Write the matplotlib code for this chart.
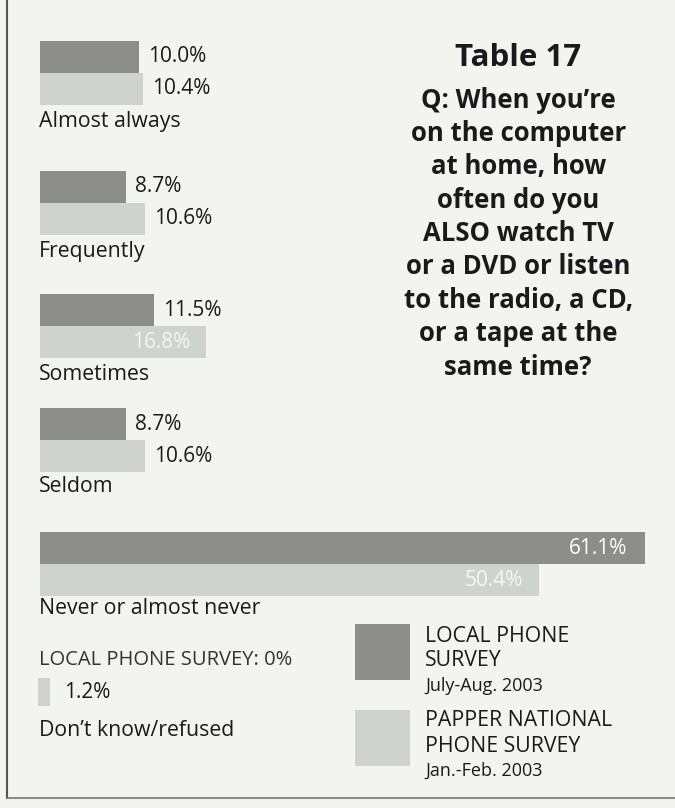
import matplotlib.pyplot as plt

# survey answers, percent
categories = ['Almost always', 'Frequently', 'Sometimes', 'Seldom', 'Never or almost never']
local = [10.0, 8.7, 11.5, 8.7, 61.1]
national = [10.4, 10.6, 16.8, 10.6, 50.4]
dk_label = "Don\u2019t know/refused"
dk_local = 0.0
dk_national = 1.2

dark = '#8d8e8c'
light = '#cfd3d0'
bg = '#f3f3ef'
ink = '#1a1a1a'
plt.rcParams['font.family'] = ['Open Sans', 'DejaVu Sans']

fig = plt.figure(figsize=(6.75, 8.08), dpi=100, facecolor=bg)
ax = fig.add_axes([0, 0, 1, 1])
ax.set_facecolor(bg)
# x in percent (0% at the bars' left edge), y in rows measured from the top
ax.set_xlim(-4.04, 64.14)
ax.set_ylim(808, 0)
ax.axis('off')

tops = [41, 171, 294, 408, 532]   # top of each dark bar
label_gap = [81, 80, 80, 79, 76]  # bar top to category label
h = 32
inside = {2: (False, True), 4: (True, True)}   # which labels sit inside the bar

for i, cat in enumerate(categories):
    y0 = tops[i]
    ax.barh(y0 + h / 2, local[i], height=h, left=0, color=dark, align='center')
    ax.barh(y0 + h * 1.5, national[i], height=h, left=0, color=light, align='center')
    in_dark, in_light = inside.get(i, (False, False))
    if in_dark:
        ax.text(local[i] - 1.8, y0 + h / 2, f'{local[i]:.1f}%', color='white',
                fontsize=15, ha='right', va='center')
    else:
        ax.text(local[i] + 0.9, y0 + h / 2, f'{local[i]:.1f}%', color=ink,
                fontsize=15, ha='left', va='center')
    if in_light:
        ax.text(national[i] - 1.6, y0 + h * 1.5, f'{national[i]:.1f}%', color='#f6f6f2',
                fontsize=15, ha='right', va='center')
    else:
        ax.text(national[i] + 0.9, y0 + h * 1.5, f'{national[i]:.1f}%', color=ink,
                fontsize=15, ha='left', va='center')
    ax.text(-0.1, y0 + label_gap[i], cat, color=ink, fontsize=15.3, ha='left', va='center')

# don't know / refused
ax.text(-0.1, 660, f'LOCAL PHONE SURVEY: {dk_local:.0f}%', color='#333333',
        fontsize=14.5, ha='left', va='center')
ax.barh(692, dk_national, height=28, left=-0.2, color=light)
ax.text(dk_national + 1.2, 692, f'{dk_national:.1f}%', color=ink, fontsize=15,
        ha='left', va='center')
ax.text(-0.1, 731, dk_label, color=ink, fontsize=15.3, ha='left', va='center')

# legend
ax.barh(652, 5.6, height=56, left=31.8, color=dark)
ax.barh(738, 5.6, height=56, left=31.8, color=light)
ax.text(38.9, 636, 'LOCAL PHONE', color=ink, fontsize=15.3, ha='left', va='center')
ax.text(38.9, 660, 'SURVEY', color=ink, fontsize=15.3, ha='left', va='center')
ax.text(38.9, 686, 'July-Aug. 2003', color=ink, fontsize=13, ha='left', va='center')
ax.text(38.9, 721, 'PAPPER NATIONAL', color=ink, fontsize=15.3, ha='left', va='center')
ax.text(38.9, 746, 'PHONE SURVEY', color=ink, fontsize=15.3, ha='left', va='center')
ax.text(38.9, 771, 'Jan.-Feb. 2003', color=ink, fontsize=13, ha='left', va='center')

# title block
ax.text(48.3, 58, 'Table 17', color=ink, fontsize=22.5, fontweight='bold',
        ha='center', va='center')
question = ['Q: When you\u2019re', 'on the computer', 'at home, how', 'often do you',
            'ALSO watch TV', 'or a DVD or listen', 'to the radio, a CD,',
            'or a tape at the', 'same time?']
for k, line in enumerate(question):
    ax.text(48.3, 100 + k * 33.4, line, color=ink, fontsize=18.5, fontweight='bold',
            ha='center', va='center')

# page frame
fig.add_artist(plt.Line2D([0.011, 0.011], [0.012, 1.0], color='#555555', lw=1.5))
fig.add_artist(plt.Line2D([0.011, 1.0], [0.012, 0.012], color='#777777', lw=1.2))

fig.savefig('out.png', dpi=100, facecolor=bg)
